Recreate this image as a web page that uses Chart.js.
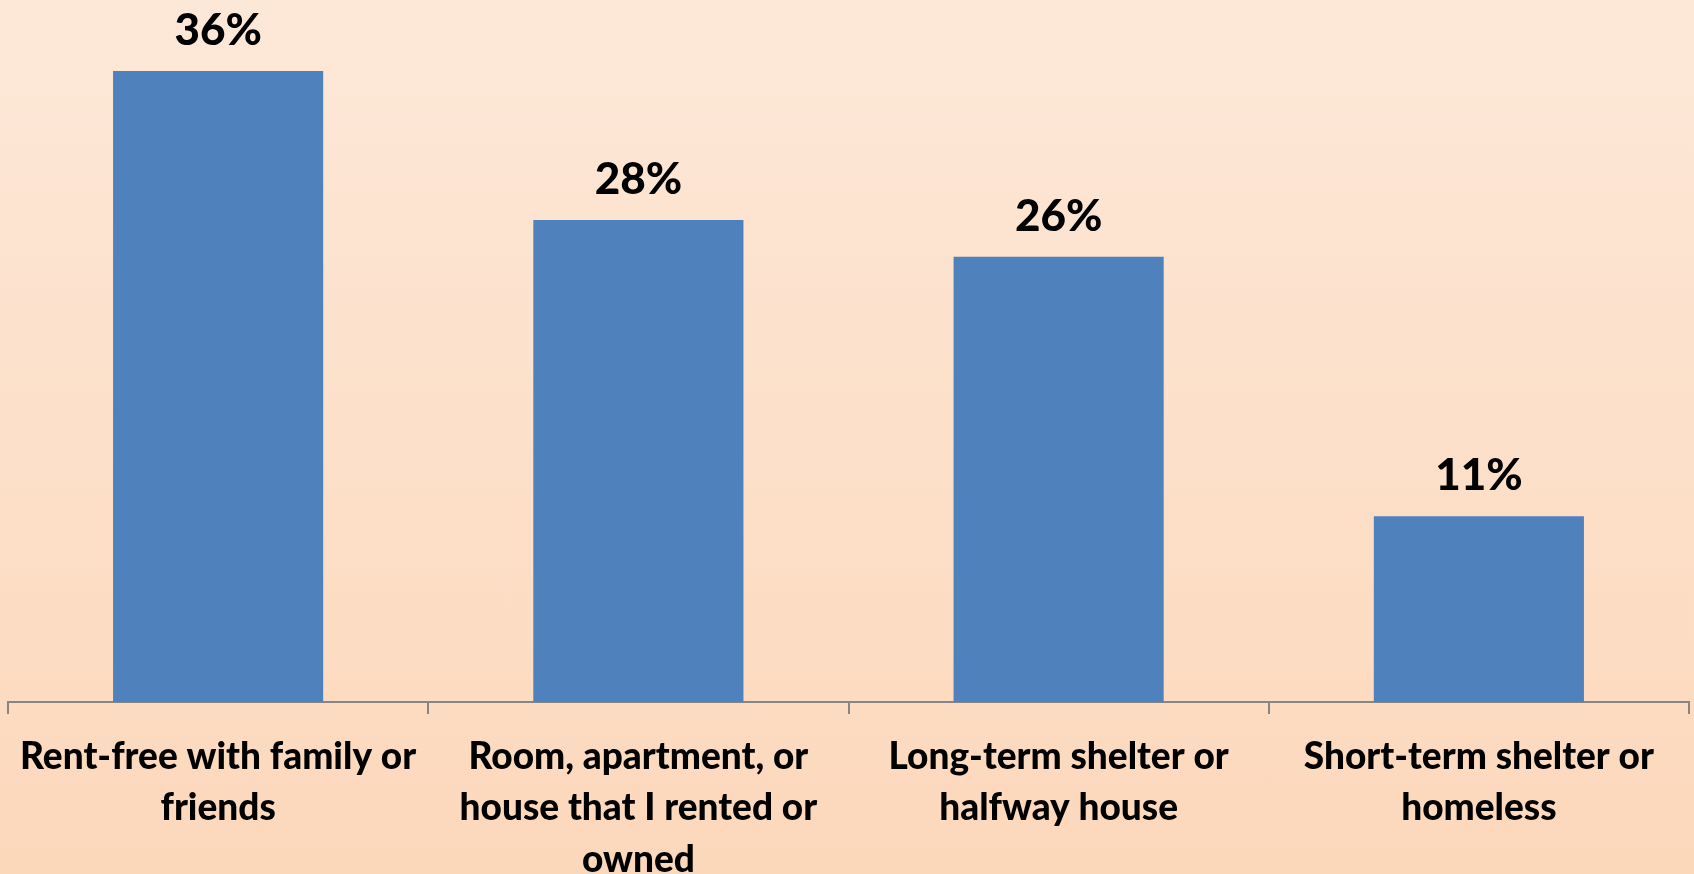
<!DOCTYPE html>
<html>
<head>
<meta charset="utf-8">
<script src="https://cdn.jsdelivr.net/npm/chart.js@4.4.1/dist/chart.umd.min.js"></script>
<style>
    html, body {
        margin: 0;
        padding: 0;
    }
    body {
        width: 1694px;
        height: 874px;
        background: linear-gradient(to bottom, #fde8d8 0%, #fcd8bb 100%);
    }
    #chart-wrap {
        position: relative;
        width: 1694px;
        height: 874px;
    }
</style>
</head>
<body>
<div id="chart-wrap">
    <canvas id="graphique-logement"></canvas>
</div>
<script>
// Catégories et valeurs
const categories = [
    ["Rent-free with family or", "friends"],
    ["Room, apartment, or", "house that I rented or", "owned"],
    ["Long-term shelter or", "halfway house"],
    ["Short-term shelter or", "homeless"],
]
const valeurs = [36, 27.5, 25.4, 10.6]
const etiquettes = ["36%", "28%", "26%", "11%"]

// Petit plugin pour écrire les pourcentages au-dessus des barres
const pluginEtiquettes = {
    id: "etiquettes",
    afterDatasetsDraw(chart) {
        const ctx = chart.ctx
        const meta = chart.getDatasetMeta(0)
        ctx.save()
        ctx.font = "900 44px Lato"
        ctx.fillStyle = "#000000"
        ctx.textAlign = "center"
        ctx.textBaseline = "alphabetic"
        meta.data.forEach((barre, i) => {
            ctx.fillText(etiquettes[i], barre.x, barre.y - 26)
        })
        ctx.restore()
    },
}

const data = {
    labels: categories,
    datasets: [{
        label: "Logement",
        data: valeurs,
        backgroundColor: "#4f81bd",
        borderWidth: 0,
        barPercentage: 0.5,
        categoryPercentage: 1,
    }],
}

const config = {
    type: "bar",
    data: data,
    options: {
        responsive: true,
        maintainAspectRatio: false,
        animation: false,
        layout: {
            padding: {top: 1, left: 8, right: 5, bottom: 0},
        },
        plugins: {
            legend: {display: false},
            tooltip: {enabled: false},
        },
        scales: {
            x: {
                grid: {
                    offset: true,
                    drawOnChartArea: false,
                    drawTicks: true,
                    tickLength: 12,
                    color: "#868686",
                    lineWidth: 2,
                },
                border: {color: "#868686", width: 2},
                ticks: {
                    color: "#000000",
                    font: {family: "Lato", weight: "900", size: 37, lineHeight: 1.39},
                    padding: 17,
                    maxRotation: 0,
                    autoSkip: false,
                },
                afterFit(scale) {
                    scale.height = 172
                },
            },
            y: {
                display: false,
                min: 0,
                max: 40,
            },
        },
    },
    plugins: [pluginEtiquettes],
}

// eslint-disable-next-line no-unused-vars
const graphiqueLogement = new Chart(
    document.querySelector("#graphique-logement"),
    config,
)
</script>
</body>
</html>
